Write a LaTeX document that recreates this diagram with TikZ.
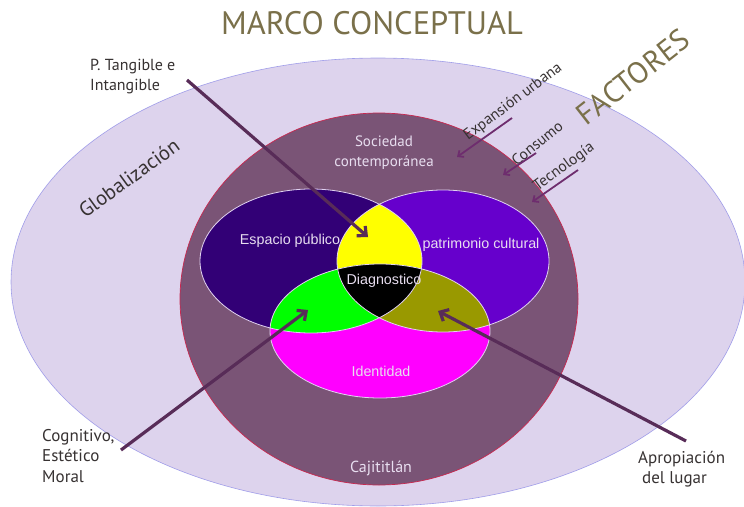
\documentclass[tikz,border=0pt]{standalone}
\usepackage{fontspec}
\setmainfont{PT Sans}
\newfontfamily\arialf{Liberation Sans}
\usetikzlibrary{arrows.meta}
\definecolor{outerfill}{RGB}{221,211,237}
\definecolor{outerline}{RGB}{100,100,225}
\definecolor{innerfill}{RGB}{122,84,118}
\definecolor{innerline}{RGB}{200,40,80}
\definecolor{vleft}{RGB}{50,0,118}
\definecolor{vright}{RGB}{102,0,204}
\definecolor{vbottom}{RGB}{255,0,255}
\definecolor{vyellow}{RGB}{255,255,0}
\definecolor{vgreen}{RGB}{0,255,0}
\definecolor{volive}{RGB}{153,153,0}
\definecolor{vline}{RGB}{225,210,240}
\definecolor{titlecol}{RGB}{122,112,74}
\definecolor{darklab}{RGB}{55,50,50}
\definecolor{lightlab}{RGB}{232,222,240}
\definecolor{arrowcol}{RGB}{88,44,88}
\definecolor{arrowcoltwo}{RGB}{110,45,110}
\tikzset{
  titletext/.style={font=\fontsize{32.5}{36}\selectfont, text=titlecol, inner sep=0pt},
  darktext/.style={font=\fontsize{16}{19.5}\selectfont, text=darklab, inner sep=0pt},
  darkbig/.style={font=\fontsize{17}{20.5}\selectfont, text=darklab, inner sep=0pt},
  factortext/.style={font=\fontsize{15.5}{17}\selectfont, text=darklab, inner sep=0pt},
  lighttext/.style={font=\fontsize{15}{20}\selectfont, text=lightlab, inner sep=0pt, align=center},
  venntext/.style={font=\arialf\fontsize{14.3}{16}\selectfont, text=lightlab, inner sep=0pt},
  bigarrow/.style={draw=arrowcol, line width=3.2pt, -{Straight Barb[length=7pt,width=13pt]}},
  smallarrow/.style={draw=arrowcoltwo, line width=1.8pt, -{Straight Barb[length=4.5pt,width=8pt]}},
  vennline/.style={draw=vline, line width=0.8pt}
}
\begin{document}
\begin{tikzpicture}[x=1pt,y=-1pt]
\useasboundingbox (0,0) rectangle (744,506);
\clip (0,0) rectangle (744,506);
\fill[white] (0,0) rectangle (744,506);
% outer and inner ellipses
\fill[outerfill] (378,282) ellipse [x radius=367pt, y radius=224pt];
\draw[outerline, draw opacity=0.55, line width=0.6pt] (378,282) ellipse [x radius=367pt, y radius=224pt];
\filldraw[fill=innerfill, draw=innerline, line width=0.7pt] (379,299) ellipse [x radius=199pt, y radius=186pt];
% Venn diagram
\fill[vleft] (311,261) ellipse [x radius=111pt, y radius=72pt];
\fill[vright] (443,261) ellipse [x radius=106pt, y radius=71pt];
\fill[vbottom] (380,331) ellipse [x radius=110pt, y radius=67pt];
\begin{scope}
  \clip (311,261) ellipse [x radius=111pt, y radius=72pt];
  \fill[vyellow] (443,261) ellipse [x radius=106pt, y radius=71pt];
  \fill[vgreen] (380,331) ellipse [x radius=110pt, y radius=67pt];
\end{scope}
\begin{scope}
  \clip (443,261) ellipse [x radius=106pt, y radius=71pt];
  \fill[volive] (380,331) ellipse [x radius=110pt, y radius=67pt];
  \clip (311,261) ellipse [x radius=111pt, y radius=72pt];
  \fill[black] (380,331) ellipse [x radius=110pt, y radius=67pt];
\end{scope}
\draw[vennline] (311,261) ellipse [x radius=111pt, y radius=72pt];
\draw[vennline] (443,261) ellipse [x radius=106pt, y radius=71pt];
\draw[vennline] (380,331) ellipse [x radius=110pt, y radius=67pt];
% texts
\node[titletext] (title) at (372,23) {MARCO CONCEPTUAL};
\node[font=\fontsize{30}{34}\selectfont, text=titlecol, inner sep=0pt, rotate=38] (factores) at (633,77) {FACTORES};
\node[font=\fontsize{20.5}{24}\selectfont, text=darklab, inner sep=0pt, rotate=36] (glob) at (129,178) {Globalización};
\node[darktext, align=left, anchor=north west] (ptang) at (90,59) {P. Tangible e\\Intangible};
\node[darkbig, align=left, anchor=north west] (cogn) at (42,429) {Cognitivo,\\Estético\\Moral};
\node[darkbig, align=left, anchor=north west] (aprop) at (638,451) {Apropiación\\\hspace*{4pt}del lugar};
\node[lighttext] (soc) at (384,153) {Sociedad\\contemporánea};
\node[lighttext, font=\fontsize{16}{20}\selectfont] (caji) at (381,468) {Cajititlán};
\node[venntext] (esp) at (290,241) {Espacio público};
\node[venntext] (patr) at (481,245) {patrimonio cultural};
\node[venntext] (diag) at (384,281) {Diagnostico};
\node[venntext] (iden) at (381,371) {Identidad};
\node[factortext, rotate=37] (expa) at (513,102) {Expansión urbana};
\node[factortext, rotate=39] (cons) at (537,143) {Consumo};
\node[factortext, rotate=36] (tecn) at (564,167) {Tecnología};
% arrow end points
\coordinate (pa) at (187,80);
\coordinate (pb) at (368,237);
\coordinate (ca) at (121,450);
\coordinate (cb) at (308,310);
\coordinate (aa) at (686,441);
\coordinate (ab) at (438,311);
\coordinate (ea) at (512,118);
\coordinate (eb) at (457,157);
\coordinate (ka) at (536,153);
\coordinate (kb) at (503,175);
\coordinate (ta) at (578,170);
\coordinate (tb) at (532,202);
\draw[bigarrow] (pa) -- (pb);
\draw[bigarrow] (ca) -- (cb);
\draw[bigarrow] (aa) -- (ab);
\draw[smallarrow] (ea) -- (eb);
\draw[smallarrow] (ka) -- (kb);
\draw[smallarrow] (ta) -- (tb);
\end{tikzpicture}
\end{document}
